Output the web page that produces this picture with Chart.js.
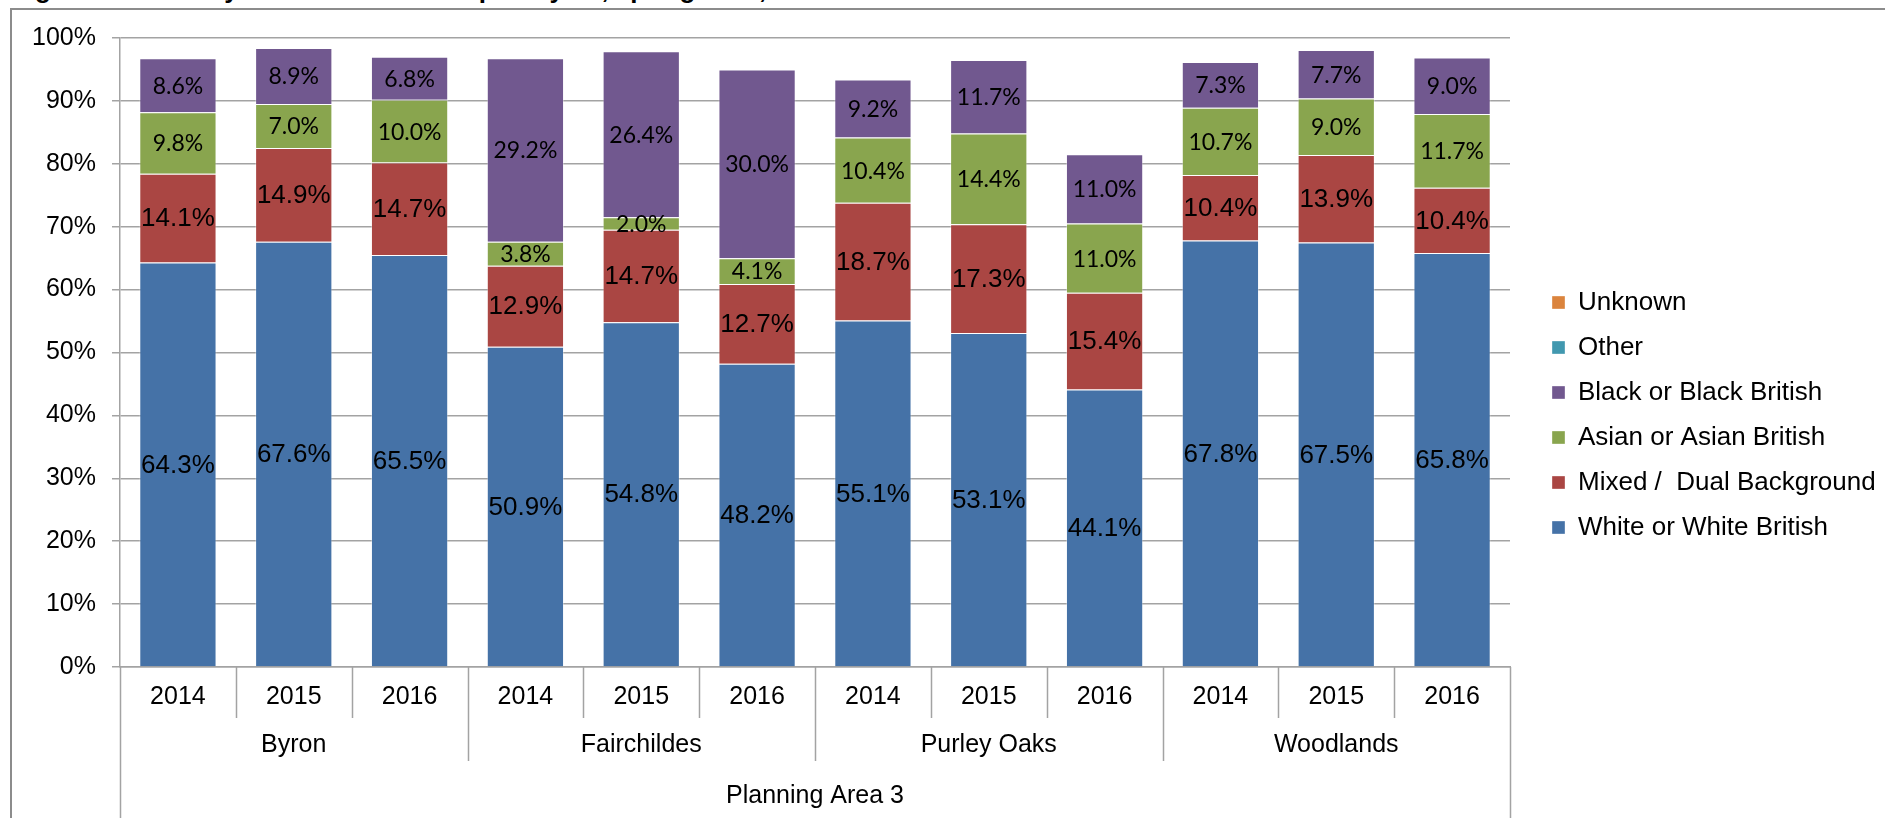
<!DOCTYPE html>
<html><head><meta charset="utf-8">
<script src="https://cdn.jsdelivr.net/npm/chart.js@4"></script>
<style>
html,body{margin:0;padding:0;background:#fff;overflow:hidden;}
#wrap{position:relative;width:1885px;height:818px;overflow:hidden;background:#fff;}
#frame{position:absolute;left:10px;top:8px;width:1900px;height:900px;border-left:2px solid #8c8c8c;border-top:2px solid #8c8c8c;}
#title{position:absolute;left:12px;top:-26px;font:bold 26px "Liberation Sans",Arial,sans-serif;white-space:nowrap;color:#000;}
canvas{position:absolute;left:0;top:0;}
</style></head><body>
<div id="wrap">
<div id="title">Figure 3: Ethnicity of children in Reception year, spring term, 2014 to 2016</div>
<div id="frame"></div>
<canvas id="c" width="1885" height="818"></canvas>
</div>
<script>
const years = ['2014','2015','2016','2014','2015','2016','2014','2015','2016','2014','2015','2016'];
const groups = ['Byron','Fairchildes','Purley Oaks','Woodlands'];
const areaLabel = 'Planning Area 3';
const seriesNames = ['White or White British','Mixed /  Dual Background','Asian or Asian British','Black or Black British','Other','Unknown'];
const white   = [64.3,67.6,65.5,50.9,54.8,48.2,55.1,53.1,44.1,67.8,67.5,65.8];
const mixed   = [14.1,14.9,14.7,12.9,14.7,12.7,18.7,17.3,15.4,10.4,13.9,10.4];
const asian   = [9.8,7.0,10.0,3.8,2.0,4.1,10.4,14.4,11.0,10.7,9.0,11.7];
const black   = [8.6,8.9,6.8,29.2,26.4,30.0,9.2,11.7,11.0,7.3,7.7,9.0];
const other   = [0,0,0,0,0,0,0,0,0,0,0,0];
const unknown = [0,0,0,0,0,0,0,0,0,0,0,0];
const colors = ['#4572A7','#AA4643','#89A54E','#71588F','#4198AF','#DB843D'];
const labelFonts = ['26px "Liberation Sans", Arial, sans-serif','26px "Liberation Sans", Arial, sans-serif','23px Lato, sans-serif','23px Lato, sans-serif','23px Lato, sans-serif','23px Lato, sans-serif'];

const seriesData = [white, mixed, asian, black, other, unknown];
const FONT = '"Liberation Sans", Arial, sans-serif';
const GRID = '#a3a3a3';
const LEGEND_WIDTH = 352;

const legendWidthFix = {
  id: 'legendWidthFix',
  afterInit(chart) {
    const lg = chart.legend;
    if (!lg) return;
    const orig = lg.fit.bind(lg);
    lg.fit = function () { orig(); this.width = LEGEND_WIDTH; };
  }
};

const segLabels = {
  id: 'segLabels',
  afterDatasetsDraw(chart) {
    const ctx = chart.ctx;
    ctx.save();
    ctx.fillStyle = '#000';
    ctx.textAlign = 'center';
    ctx.textBaseline = 'middle';
    chart.data.datasets.forEach((ds, di) => {
      const meta = chart.getDatasetMeta(di);
      if (meta.hidden) return;
      ctx.font = labelFonts[di];
      meta.data.forEach((el, i) => {
        const v = ds.data[i];
        if (!v) return;
        const p = el.getProps(['x','y','base'], true);
        ctx.fillText(v.toFixed(1) + '%', p.x, (p.y + p.base) / 2 + 1);
      });
    });
    ctx.restore();
  }
};

const groupAxis = {
  id: 'groupAxis',
  afterDraw(chart) {
    const ctx = chart.ctx;
    const xs = chart.scales.x;
    const bottom0 = chart.chartArea.bottom;
    const n = years.length;
    const band = (xs.getPixelForValue(1) - xs.getPixelForValue(0));
    const edge = i => xs.getPixelForValue(0) - band / 2 + i * band;
    ctx.save();
    ctx.strokeStyle = GRID;
    ctx.lineWidth = 1.5;
    for (let i = 0; i <= n; i++) {
      let yEnd = bottom0 + 51;
      if (i % 3 === 0) yEnd = bottom0 + 94;
      if (i === 0 || i === n) yEnd = chart.height;
      const x = Math.round(edge(i)) + 0.5;
      ctx.beginPath();
      ctx.moveTo(x, bottom0);
      ctx.lineTo(x, yEnd);
      ctx.stroke();
    }
    ctx.fillStyle = '#000';
    ctx.font = '25px ' + FONT;
    ctx.textAlign = 'center';
    ctx.textBaseline = 'middle';
    groups.forEach((g, gi) => {
      const cx = (edge(gi * 3) + edge(gi * 3 + 3)) / 2;
      ctx.fillText(g, cx, bottom0 + 78);
    });
    ctx.fillText(areaLabel, (edge(0) + edge(n)) / 2, bottom0 + 129);
    ctx.restore();
  }
};

new Chart(document.getElementById('c'), {
  type: 'bar',
  data: {
    labels: years,
    datasets: seriesData.map((d, i) => ({
      label: seriesNames[i],
      data: d,
      backgroundColor: colors[i],
      borderColor: 'rgba(255,255,255,0.35)',
      borderWidth: 1,
      yAxisID: 'y',
      categoryPercentage: 1,
      barPercentage: 0.667
    }))
  },
  options: {
    responsive: false,
    animation: false,
    devicePixelRatio: 1,
    layout: { padding: { top: 38, bottom: 26, left: 0, right: 0 } },
    plugins: {
      tooltip: { enabled: false },
      legend: {
        position: 'right',
        align: 'center',
        reverse: true,
        labels: {
          boxWidth: 13, boxHeight: 13, padding: 19,
          color: '#000',
          font: { family: FONT, size: 26 }
        }
      }
    },
    scales: {
      x: {
        stacked: true,
        grid: { display: false, drawTicks: false, tickLength: 0 },
        border: { display: true, color: GRID, width: 1.5 },
        ticks: { color: '#000', font: { family: FONT, size: 25 }, padding: 15, maxRotation: 0, autoSkip: false },
        afterFit: s => { s.height = 125; }
      },
      y: {
        stacked: true,
        min: 0, max: 100,
        ticks: { stepSize: 10, color: '#000', font: { family: FONT, size: 25 }, padding: 16, callback: v => v + '%' },
        grid: { color: GRID, lineWidth: 1.5, tickLength: 8 },
        border: { display: true, color: GRID, width: 1.5 },
        afterFit: s => { s.width = 120; }
      },
      y2: {
        position: 'right',
        display: true,
        ticks: { display: false },
        grid: { display: false, drawTicks: false },
        border: { display: false },
        afterFit: s => { s.width = 23; }
      }
    }
  },
  plugins: [legendWidthFix, segLabels, groupAxis]
});
</script>
</body></html>
